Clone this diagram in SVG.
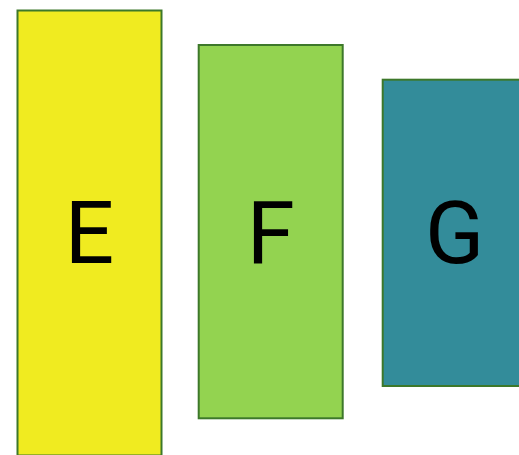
<svg xmlns="http://www.w3.org/2000/svg" width="519" height="455" viewBox="0 0 519 455">
<style>
.box{stroke:#3d782a;stroke-width:2}
.lbl{font-family:Roboto,"Liberation Sans",Arial,sans-serif;font-size:87px;fill:#000;text-anchor:middle}
</style>
<rect width="519" height="455" fill="#fff"/>
<g id="E"><rect class="box" x="17.5" y="10.5" width="144" height="445" fill="#f0eb20"/><text class="lbl" x="89.5" y="263">E</text></g>
<g id="F"><rect class="box" x="198.7" y="45" width="144" height="373.3" fill="#93d350"/><text class="lbl" x="270.7" y="263">F</text></g>
<g id="G"><rect class="box" x="382.7" y="79.7" width="144" height="306.3" fill="#338c9a"/><text class="lbl" x="454.7" y="263">G</text></g>
<g id="connectors"/>
</svg>
